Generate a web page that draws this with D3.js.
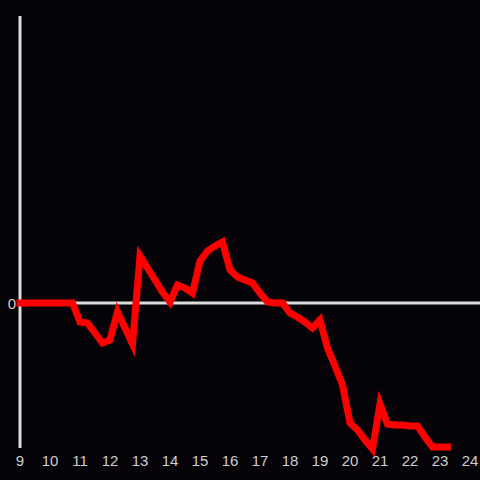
<!DOCTYPE html>
<html>
<head>
<meta charset="utf-8">
<script src="https://cdn.jsdelivr.net/npm/d3@7"></script>
<style>
  html, body { margin: 0; padding: 0; background: #050307; }
  svg { display: block; }
</style>
</head>
<body>
<svg id="chart" width="480" height="480"></svg>
<script>
// time of day (hours) and value at each quarter hour
const hours = [
  9, 9.25, 9.5, 9.75, 10, 10.25, 10.5, 10.75,
  11, 11.25, 11.5, 11.75, 12, 12.25, 12.5, 12.75,
  13, 13.25, 13.5, 13.75, 14, 14.25, 14.5, 14.75,
  15, 15.25, 15.5, 15.75, 16, 16.25, 16.5, 16.75,
  17, 17.25, 17.5, 17.75, 18, 18.25, 18.5, 18.75,
  19, 19.25, 19.5, 19.75, 20, 20.25, 20.5, 20.75,
  21, 21.25, 21.5, 21.75, 22, 22.25, 22.5, 22.75,
  23, 23.25
];
const values = [
  0, 0, 0, 0, 0, 0, 0, 0,
  -19, -20, -30, -40, -37, -9, -25, -41,
  47, 35, 23, 11, 1, 18, 15, 10,
  42, 52, 57, 61, 33, 26, 23, 20,
  10, 1, 0, 0, -10, -14, -19, -25,
  -17, -45, -63, -82, -120, -127, -137, -146,
  -101, -121, -122, -122, -123, -123, -134, -144,
  -144, -144
];
const xTicks = [9, 10, 11, 12, 13, 14, 15, 16, 17, 18, 19, 20, 21, 22, 23, 24];
const yTicks = [0];

const width = 480, height = 480;
const axisColor = '#dcdcdc';
const labelColor = '#cfcfcf';

const svg = d3.select('#chart');

const x = d3.scaleLinear().domain([9, 24]).range([20, 470]);
const y = d3.scaleLinear().domain([-145, 287]).range([448, 16]);

// y axis line
svg.append('line')
  .attr('x1', x(9)).attr('x2', x(9))
  .attr('y1', y(287)).attr('y2', y(-145))
  .attr('stroke', axisColor)
  .attr('stroke-width', 3);

// zero line
svg.append('line')
  .attr('x1', x(9)).attr('x2', width)
  .attr('y1', y(0)).attr('y2', y(0))
  .attr('stroke', axisColor)
  .attr('stroke-width', 3);

// data line
const line = d3.line()
  .x((d, i) => x(hours[i]))
  .y(d => y(d));

svg.append('path')
  .datum(values)
  .attr('fill', 'none')
  .attr('stroke', '#ff0000')
  .attr('stroke-width', 7)
  .attr('stroke-linejoin', 'miter')
  .attr('stroke-linecap', 'square')
  .attr('d', line);

// x tick labels
svg.append('g')
  .selectAll('text')
  .data(xTicks)
  .join('text')
    .attr('x', d => x(d))
    .attr('y', 466)
    .attr('text-anchor', 'middle')
    .attr('fill', labelColor)
    .style('font-family', '"Liberation Sans", Arial, sans-serif')
    .style('font-size', '15px')
    .text(d => d);

// y tick labels
svg.append('g')
  .selectAll('text')
  .data(yTicks)
  .join('text')
    .attr('x', 16)
    .attr('y', d => y(d) + 6)
    .attr('text-anchor', 'end')
    .attr('fill', labelColor)
    .style('font-family', '"Liberation Sans", Arial, sans-serif')
    .style('font-size', '15px')
    .text(d => d);
</script>
</body>
</html>
